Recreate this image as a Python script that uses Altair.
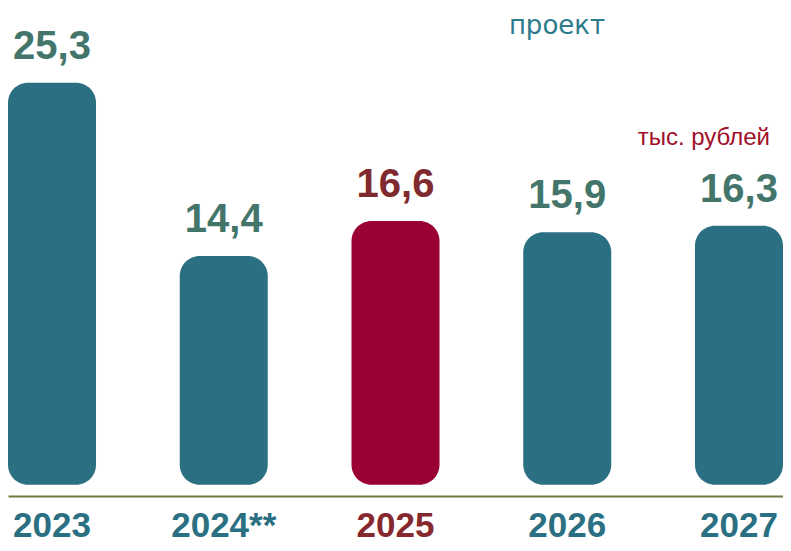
import altair as alt
import pandas as pd

years = ["2023", "2024**", "2025", "2026", "2027"]
values = [25.3, 14.4, 16.6, 15.9, 16.3]
value_labels = ["25,3", "14,4", "16,6", "15,9", "16,3"]
bar_colors = ["#2A6F82", "#2A6F82", "#9A0036", "#2A6F82", "#2A6F82"]
label_colors = ["#43756B", "#43756B", "#7F2A2E", "#43756B", "#43756B"]
note_project = "проект"
note_unit = "тыс. рублей"

df = pd.DataFrame({
    "year": years,
    "value": values,
    "label": value_labels,
    "bar_color": bar_colors,
    "label_color": label_colors,
})

BOLD_FONT = "Liberation Sans, Arial"

x = alt.X(
    "year:N",
    sort=years,
    scale=alt.Scale(paddingInner=0.4876, paddingOuter=0),
    axis=alt.Axis(
        title=None, labelAngle=0, ticks=False, tickSize=0, labelPadding=12,
        labelFont=BOLD_FONT, labelFontSize=35, labelFontWeight="bold",
        labelColor={"condition": {"test": "datum.value === '2025'", "value": "#86292E"},
                    "value": "#2A6F82"},
        domainColor="#6B7B43", domainWidth=2, labelFlush=False, labelOverlap=False,
        grid=False,
    ),
)
y = alt.Y("value:Q", scale=alt.Scale(domain=[-0.7, 30.0], nice=False, zero=False), axis=None)

base = alt.Chart(df)
bars = base.mark_bar(cornerRadius=20).encode(
    x=x, y=y, y2=alt.datum(0), color=alt.Color("bar_color:N", scale=None)
)
texts = base.mark_text(
    dy=-24, baseline="alphabetic", font=BOLD_FONT, fontSize=40, fontWeight="bold"
).encode(x=x, y=y, text="label:N", color=alt.Color("label_color:N", scale=None))

ann1 = alt.Chart(pd.DataFrame({"t": [note_project]})).mark_text(
    align="center", baseline="alphabetic", font="DejaVu Sans", fontSize=26, color="#2C7A8C"
).encode(x=alt.value(549), y=alt.value(26), text="t:N")

ann2 = alt.Chart(pd.DataFrame({"t": [note_unit]})).mark_text(
    align="right", baseline="alphabetic", font="Liberation Sans", fontSize=24, color="#A0102A"
).encode(x=alt.value(762), y=alt.value(137), text="t:N")

chart = alt.layer(bars, texts, ann1, ann2).properties(
    width=775, height=488,
    padding={"left": 0, "top": 0, "right": 0, "bottom": 47},
    autosize=alt.AutoSizeParams(type="none"),
).configure_view(stroke=None)

chart.save("out.html", embed_options={"renderer": "svg", "actions": False})
